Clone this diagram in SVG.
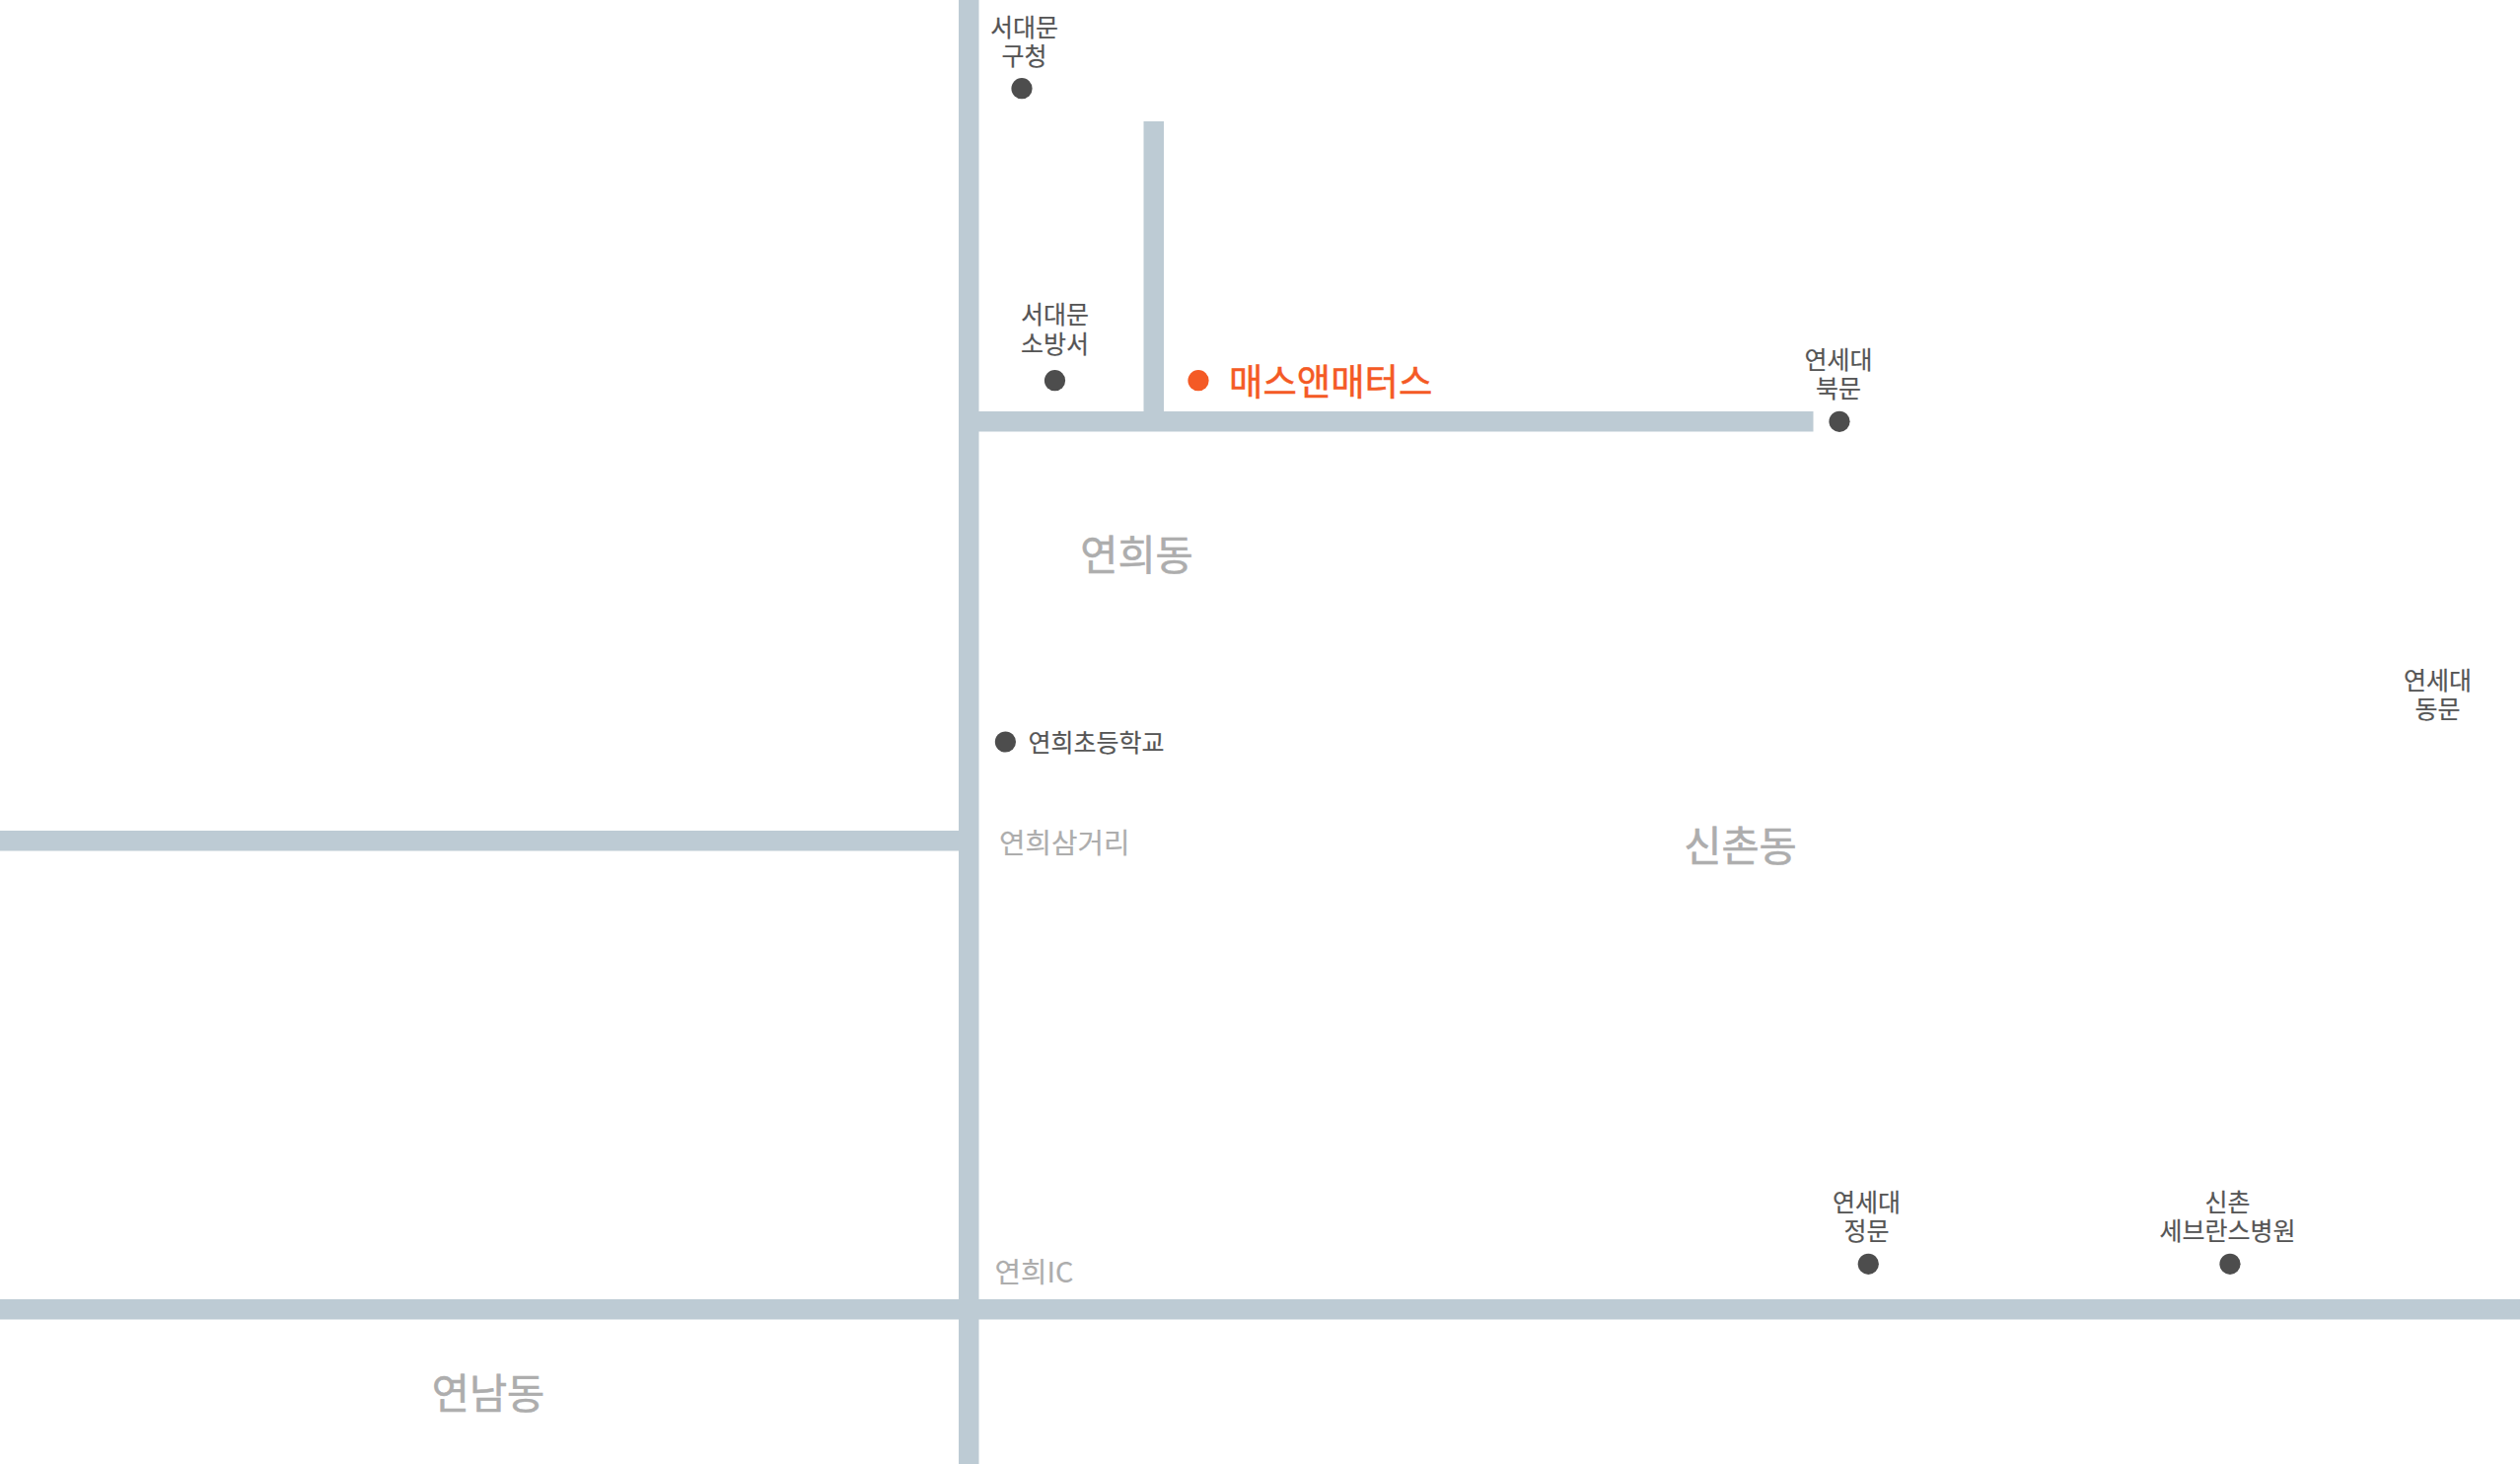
<svg xmlns="http://www.w3.org/2000/svg" width="2555" height="1484" viewBox="0 0 2555 1484">
<style>
text{font-family:"Noto Sans CJK KR","Noto Sans",sans-serif;text-anchor:middle}
.road{fill:#bdcbd4}
.dot{fill:#4d4d4d}
.lb{font-size:25px;fill:#555;stroke:#555;stroke-width:.2px}
.hub{font-size:37.4px;fill:#f45a25;stroke:#f45a25;stroke-width:.5px;text-anchor:start}
.area{font-size:41.5px;fill:#adadad;stroke:#adadad;stroke-width:.6px}
.place{font-size:28.8px;fill:#adadad;stroke:#adadad;stroke-width:.2px;text-anchor:start}
</style>
<rect width="2555" height="1484" fill="#fff"/>
<g id="roads">
<rect class="road" x="972" y="0" width="20.5" height="1484"/>
<rect class="road" x="1159.5" y="123" width="20.5" height="300"/>
<rect class="road" x="992" y="417" width="846.5" height="20.5"/>
<rect class="road" x="0" y="842" width="972" height="20.5"/>
<rect class="road" x="0" y="1317" width="2555" height="20.5"/>
</g>
<g id="n-seodaemun-gu"><text class="lb" x="1038.6" y="37"><tspan x="1038.6">서대문</tspan><tspan x="1038.6" dy="29">구청</tspan></text><circle class="dot" cx="1036" cy="89.7" r="10.6"/></g>
<g id="n-fire"><text class="lb" x="1069.5" y="328"><tspan x="1069.5">서대문</tspan><tspan x="1069.5" dy="29.5">소방서</tspan></text><circle class="dot" cx="1069.5" cy="385.7" r="10.6"/></g>
<g id="n-hub"><circle cx="1215" cy="385.7" r="10.6" fill="#f45a25"/><text class="hub" x="1246" y="400.5">매스앤매터스</text></g>
<g id="n-north"><text class="lb" x="1864" y="374"><tspan x="1864">연세대</tspan><tspan x="1864" dy="29">북문</tspan></text><circle class="dot" cx="1865" cy="427.3" r="10.6"/></g>
<g id="n-yeonhui"><text class="area" x="1152.5" y="578">연희동</text></g>
<g id="n-east"><text class="lb" x="2471.6" y="699"><tspan x="2471.6">연세대</tspan><tspan x="2471.6" dy="29">동문</tspan></text></g>
<g id="n-school"><circle class="dot" cx="1019.4" cy="752" r="10.6"/><text class="lb" style="text-anchor:start" x="1042.5" y="761.5">연희초등학교</text></g>
<g id="n-samgeori"><text class="place" x="1013" y="865">연희삼거리</text></g>
<g id="n-sinchon"><text class="area" x="1764.5" y="873">신촌동</text></g>
<g id="n-main"><text class="lb" x="1892.5" y="1227.5"><tspan x="1892.5">연세대</tspan><tspan x="1892.5" dy="29.5">정문</tspan></text><circle class="dot" cx="1894.3" cy="1281.3" r="10.6"/></g>
<g id="n-severance"><text class="lb" x="2258.6" y="1227.5"><tspan x="2258.6">신촌</tspan><tspan x="2258.6" dy="29.5">세브란스병원</tspan></text><circle class="dot" cx="2261" cy="1281.3" r="10.6"/></g>
<g id="n-ic"><text class="place" x="1008.5" y="1299.5">연희IC</text></g>
<g id="n-yeonnam"><text class="area" x="495" y="1428">연남동</text></g>
</svg>
